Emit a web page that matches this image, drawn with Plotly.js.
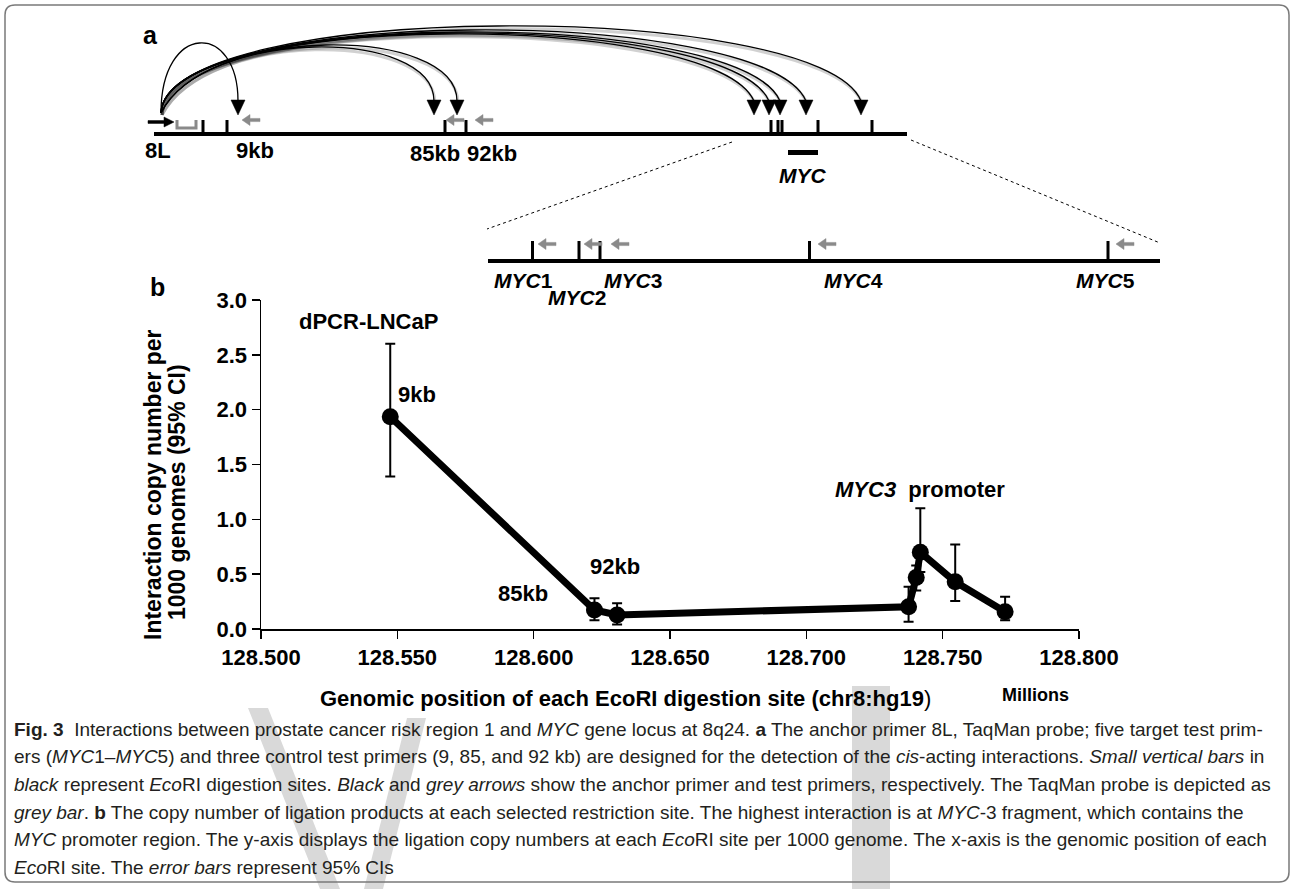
<!DOCTYPE html>
<html><head><meta charset="utf-8">
<script src="https://cdn.plot.ly/plotly-3.0.1.min.js"></script>
<style>body{margin:0;background:#fff}#chart{width:1294px;height:889px}</style>
</head><body><div id="chart"></div>
<script>
// ---------- Panel b data ----------
const positionMb = [128.5474, 128.6223, 128.6306, 128.7375, 128.7403, 128.7418, 128.7546, 128.7729];
const copyNumber = [1.935, 0.173, 0.128, 0.203, 0.47, 0.70, 0.43, 0.158];
const ciUpper    = [2.60, 0.28, 0.235, 0.385, 0.58, 1.10, 0.77, 0.295];
const ciLower    = [1.39, 0.08, 0.04, 0.067, 0.35, 0.52, 0.255, 0.08];
const xTickVals = [128.5, 128.55, 128.6, 128.65, 128.7, 128.75, 128.8];
const xTickText = ['128.500', '128.550', '128.600', '128.650', '128.700', '128.750', '128.800'];
const yTickVals = [0, 0.5, 1, 1.5, 2, 2.5, 3];
const yTickText = ['0.0', '0.5', '1.0', '1.5', '2.0', '2.5', '3.0'];
const pointLabels = ['dPCR-LNCaP', '9kb', '85kb', '92kb', '<i>MYC3</i>\u00a0\u00a0promoter'];

// ---------- Panel a (schematic) data, schematic units ----------
const overviewSites = [203, 227, 445, 466, 771, 778, 782, 818, 872];
const targetNames   = ['9kb', '85kb', '92kb', 'MYC1', 'MYC2', 'MYC3', 'MYC4', 'MYC5'];
const targetArrowX  = [238, 434, 457, 754, 769, 780, 806, 861];
const arcPeakY      = [43, 47, 45, 34, 33, 32, 30, 26];
const controlLabels = ['8L', '9kb', '85kb', '92kb'];
const controlLabelX = [158, 255, 435, 492];
const controlArrowX = [242, 446, 475];
const zoomSites     = [532.5, 579, 600, 809.5, 1108];
const zoomArrowX    = [538, 584, 611, 818, 1116];
const zoomLabelNum  = ['1', '2', '3', '4', '5'];
const zoomLabelX    = [523, 577, 633, 853, 1105];

const captionLines = [
  '<b>Fig. 3</b>\u00a0 Interactions between prostate cancer risk region 1 and <i>MYC</i> gene locus at 8q24. <b>a</b> The anchor primer 8L, TaqMan probe; five target test prim-',
  'ers (<i>MYC</i>1–<i>MYC</i>5) and three control test primers (9, 85, and 92 kb) are designed for the detection of the <i>cis</i>-acting interactions. <i>Small vertical bars</i> in',
  '<i>black</i> represent <i>Eco</i>RI digestion sites. <i>Black</i> and <i>grey arrows</i> show the anchor primer and test primers, respectively. The TaqMan probe is depicted as',
  '<i>grey bar</i>. <b>b</b> The copy number of ligation products at each selected restriction site. The highest interaction is at <i>MYC</i>-3 fragment, which contains the',
  '<i>MYC</i> promoter region. The y-axis displays the ligation copy numbers at each <i>Eco</i>RI site per 1000 genome. The x-axis is the genomic position of each',
  '<i>Eco</i>RI site. The <i>error bars</i> represent 95% CIs'
];

// ---------- helpers ----------
const W = 1294, H = 889;
const ARIAL = 'Liberation Sans, Arial, sans-serif';
const shapes = [], annotations = [];
const S = o => Object.assign({xref: 'x2', yref: 'y2', layer: 'above'}, o);
function seg(x0, y0, x1, y1, color, width, dash) {
  shapes.push(S({type: 'line', x0, y0, x1, y1, line: {color, width, dash: dash || 'solid'}}));
}
function poly(d, color, width, fill, layer) {
  shapes.push(S({type: 'path', path: d, line: {color, width}, fillcolor: fill || 'rgba(0,0,0,0)', layer: layer || 'above'}));
}
function txt(x, y, text, size, opts) {
  annotations.push(Object.assign({xref: 'x2', yref: 'y2', x, y, text, showarrow: false,
    font: {family: ARIAL, size, color: 'black'}, xanchor: 'center', yanchor: 'middle'}, opts || {}));
}
function greyArrow(tip, y) {
  poly(`M${tip},${y} L${tip+8},${y-5.5} L${tip+8},${y-1.6} L${tip+18},${y-1.6} L${tip+18},${y+1.6} L${tip+8},${y+1.6} L${tip+8},${y+5.5} Z`, '#8a8a8a', 0.5, '#8a8a8a');
}

// ---------- watermark (light grey strokes behind caption) ----------
const wm = '#d9d9d9';
poly('M248,708 L268,708 L340,889 L320,889 Z', wm, 0, wm, 'below');
poly('M407,718 L426,718 L383,889 L364,889 Z', wm, 0, wm, 'below');
poly('M852,686 L890,686 L890,889 L852,889 Z', wm, 0, wm, 'below');

// ---------- panel a ----------
seg(154, 134, 907, 134, 'black', 4);
overviewSites.forEach(x => seg(x, 120, x, 134, 'black', 3));
poly('M148,120.6 L164,120.6 L164,117 L174,122 L164,127 L164,123.4 L148,123.4 Z', 'black', 0.5, 'black');
poly('M177,120 L177,128 L196,128 L196,120', '#8a8a8a', 3);
controlArrowX.forEach(x => greyArrow(x, 120));
const x0 = 161, y0 = 113, yEnd = 101;
targetArrowX.forEach((xt, i) => {
  const c = (arcPeakY[i] - 0.125 * (y0 + yEnd)) / 0.75;
  const d = xt - x0;
  let k1, k2;
  if (d < 100) { k1 = 0; k2 = 0; } else if (d < 400) { k1 = 44; k2 = 0; } else { k1 = 5; k2 = 40; }
  if (d > 100) poly(`M${x0+1},${y0+2} C${x0 + k1 + 1},${c+3} ${xt - k2 + 1},${c+3} ${xt+1},${yEnd+2}`, 'rgba(0,0,0,0.18)', 3);
  poly(`M${x0},${y0} C${x0 + k1},${c} ${xt - k2},${c} ${xt},${yEnd}`, 'black', 1.3);
  poly(`M${xt-7},${yEnd-1} L${xt+7},${yEnd-1} L${xt},${yEnd+14} Z`, 'black', 0.5, 'black');
});
controlLabels.forEach((t, i) => txt(controlLabelX[i], i < 2 ? 150 : 153, '<b>' + t + '</b>', 22));
seg(788, 152.5, 818, 152.5, 'black', 5);
txt(803, 175, '<b><i>MYC</i></b>', 21);
seg(732, 142, 487, 229, 'black', 1, 'dot');
seg(911, 140, 1160, 243, 'black', 1, 'dot');
seg(488, 261, 1160, 261, 'black', 4);
zoomSites.forEach(x => seg(x, 241, x, 261, 'black', 3));
zoomArrowX.forEach(x => greyArrow(x, 244));
zoomLabelNum.forEach((n, i) => txt(zoomLabelX[i], i === 1 ? 297 : 280, '<b><i>MYC</i>' + n + '</b>', 21));
txt(150, 35, '<b>a</b>', 25);
txt(157, 287, '<b>b</b>', 25);

// ---------- panel b annotations ----------
const labelPos = [[368, 321], [417, 394], [523, 593], [615, 566], [920, 489]];
pointLabels.forEach((t, i) => txt(labelPos[i][0], labelPos[i][1], '<b>' + t + '</b>', 22));
txt(153, 485, '<b>Interaction copy number per</b>', 23, {textangle: -90});
txt(177, 492, '<b>1000 genomes (95% CI)</b>', 23, {textangle: -90});
txt(625, 698, '<b>Genomic position of each EcoRI digestion site (chr8:hg19</b>)', 22);
txt(1035, 695, '<b>Millions</b>', 18);

captionLines.forEach((t, i) => txt(12, 729 + 27.7 * i, t, 19,
  {xanchor: 'left', font: {family: ARIAL, size: 19, color: '#231f20'}}));

const r = 10, L = 5, T = 5, R = 1289, B = 882;
poly(`M${L+r},${T} L${R-r},${T} Q${R},${T} ${R},${T+r} L${R},${B-r} Q${R},${B} ${R-r},${B} L${L+r},${B} Q${L},${B} ${L},${B-r} L${L},${T+r} Q${L},${T} ${L+r},${T} Z`, '#7a7a7a', 1.5);

// ---------- traces ----------
const main = {
  x: positionMb, y: copyNumber, type: 'scatter', mode: 'lines+markers',
  line: {color: 'black', width: 7}, marker: {color: 'black', size: 17},
  error_y: {type: 'data', symmetric: false,
    array: ciUpper.map((u, i) => u - copyNumber[i]),
    arrayminus: copyNumber.map((v, i) => v - ciLower[i]),
    color: 'black', thickness: 2, width: 5},
  cliponaxis: false, hoverinfo: 'skip', xaxis: 'x', yaxis: 'y'
};
const holder = {x: [], y: [], type: 'scatter', mode: 'markers', xaxis: 'x2', yaxis: 'y2', hoverinfo: 'skip'};

const tickFont = {family: ARIAL, size: 22, color: 'black', weight: 'bold'};
const layout = {
  width: W, height: H, margin: {l: 0, r: 0, t: 0, b: 0},
  paper_bgcolor: 'white', plot_bgcolor: 'rgba(0,0,0,0)', showlegend: false,
  font: {family: ARIAL},
  xaxis: {domain: [261 / W, 1079 / W], range: [128.5, 128.8], tickvals: xTickVals, ticktext: xTickText,
    ticks: 'outside', ticklen: 8, tickwidth: 1.5, tickcolor: 'black', showline: true, linecolor: 'black',
    linewidth: 1.5, showgrid: false, zeroline: false, tickfont: tickFont, anchor: 'y', fixedrange: true},
  yaxis: {domain: [1 - 629 / H, 1 - 300 / H], range: [0, 3], tickvals: yTickVals, ticktext: yTickText,
    ticks: 'outside', ticklen: 8, tickwidth: 1.5, tickcolor: 'black', showline: true, linecolor: 'black',
    linewidth: 1.5, showgrid: false, zeroline: false, tickfont: tickFont, anchor: 'x', fixedrange: true},
  xaxis2: {domain: [0, 1], range: [0, W], visible: false, anchor: 'y2', fixedrange: true},
  yaxis2: {domain: [0, 1], range: [H, 0], visible: false, anchor: 'x2', fixedrange: true},
  shapes, annotations
};
Plotly.newPlot('chart', [main, holder], layout, {staticPlot: true, displayModeBar: false});
</script></body></html>
